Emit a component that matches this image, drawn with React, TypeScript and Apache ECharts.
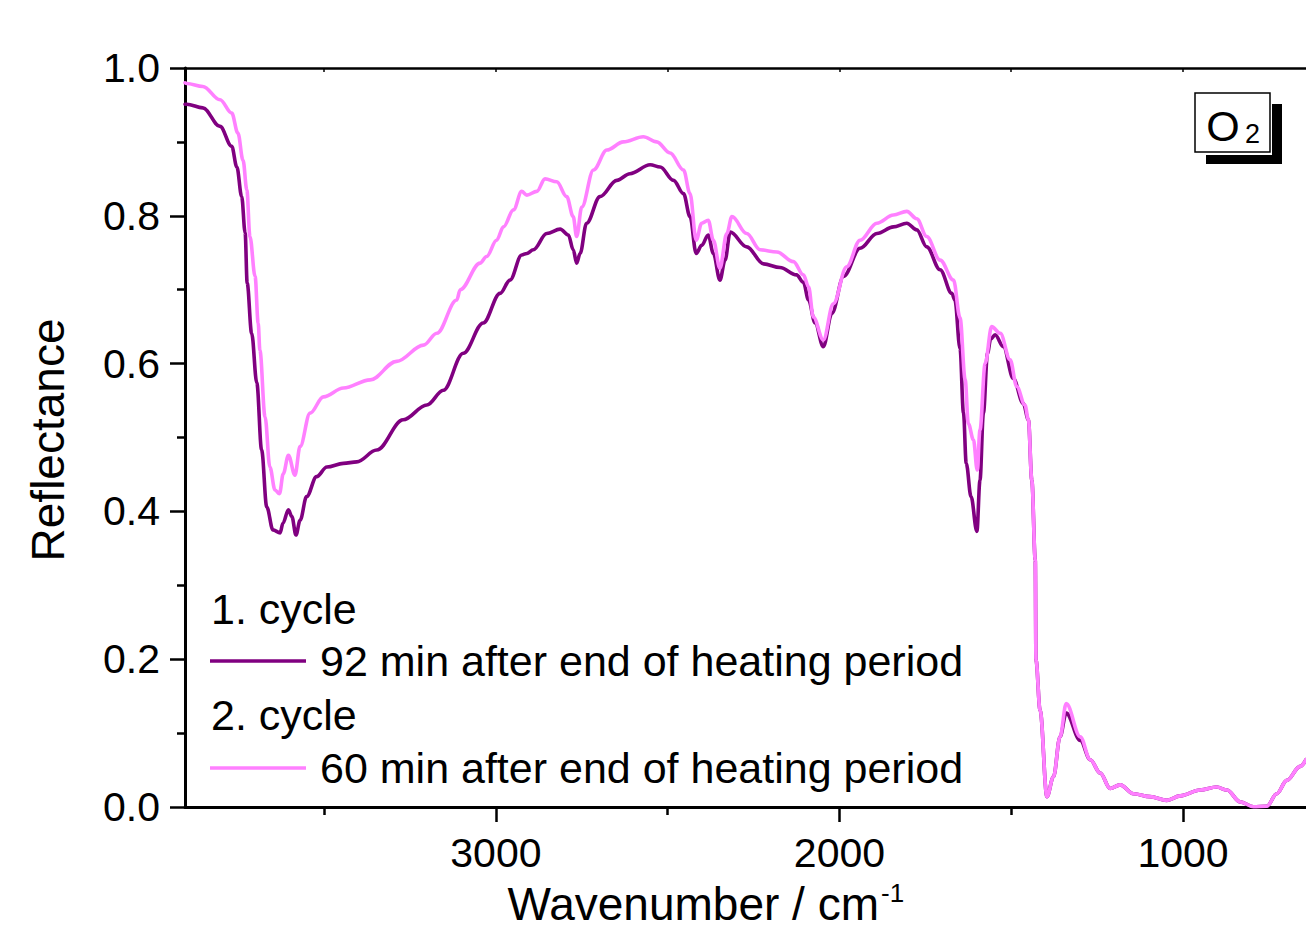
import React, { useEffect, useRef } from "react";
import * as echarts from "echarts";

// Diffuse reflectance spectra, [wavenumber / cm-1, reflectance]
const cycle1After92Min: [number, number][] = [
  [3905, 0.951], [3900, 0.951], [3853, 0.946], [3803, 0.921], [3769, 0.894], [3754, 0.866],
  [3740, 0.826], [3730, 0.777], [3724, 0.709], [3711, 0.641], [3696, 0.574], [3682, 0.483],
  [3667, 0.406], [3649, 0.375], [3628, 0.371], [3620, 0.384], [3604, 0.402], [3594, 0.393],
  [3582, 0.368], [3570, 0.388], [3551, 0.42], [3522, 0.447], [3492, 0.46], [3444, 0.465],
  [3405, 0.467], [3347, 0.483], [3270, 0.524], [3201, 0.544], [3153, 0.564], [3095, 0.614],
  [3037, 0.655], [2988, 0.695], [2959, 0.713], [2925, 0.747], [2910, 0.749], [2891, 0.754],
  [2852, 0.776], [2813, 0.782], [2789, 0.774], [2775, 0.754], [2765, 0.736], [2755, 0.749],
  [2736, 0.79], [2697, 0.826], [2648, 0.848], [2610, 0.857], [2551, 0.869], [2522, 0.866],
  [2483, 0.848], [2454, 0.83], [2435, 0.799], [2417, 0.749], [2401, 0.76], [2382, 0.774],
  [2367, 0.749], [2348, 0.713], [2333, 0.74], [2318, 0.778], [2270, 0.758], [2221, 0.735],
  [2173, 0.73], [2125, 0.72], [2105, 0.71], [2090, 0.686], [2071, 0.655], [2047, 0.623],
  [2022, 0.668], [1988, 0.718], [1940, 0.756], [1891, 0.776], [1843, 0.785], [1804, 0.79],
  [1775, 0.781], [1746, 0.758], [1707, 0.727], [1673, 0.695], [1664, 0.686], [1649, 0.62],
  [1639, 0.533], [1631, 0.465], [1617, 0.42], [1600, 0.373], [1591, 0.442], [1581, 0.533],
  [1569, 0.614], [1560, 0.633], [1547, 0.639], [1523, 0.623], [1494, 0.58], [1465, 0.546],
  [1450, 0.524], [1440, 0.442], [1430, 0.334], [1428, 0.199], [1416, 0.131], [1396, 0.014],
  [1377, 0.041], [1358, 0.095], [1340, 0.127], [1299, 0.09], [1270, 0.064], [1241, 0.046],
  [1212, 0.025], [1183, 0.03], [1144, 0.018], [1096, 0.014], [1047, 0.009], [1008, 0.015],
  [950, 0.023], [902, 0.027], [872, 0.023], [834, 0.007], [795, 0.0004], [756, 0.001],
  [727, 0.018], [698, 0.036], [659, 0.055], [642, 0.064],
];

const cycle2After60Min: [number, number][] = [
  [3905, 0.98], [3900, 0.979], [3853, 0.975], [3803, 0.957], [3769, 0.939], [3751, 0.912],
  [3736, 0.875], [3725, 0.835], [3716, 0.772], [3701, 0.718], [3692, 0.655], [3687, 0.618],
  [3672, 0.528], [3658, 0.46], [3643, 0.429], [3630, 0.424], [3619, 0.451], [3604, 0.476],
  [3585, 0.449], [3570, 0.488], [3541, 0.533], [3502, 0.555], [3444, 0.567], [3366, 0.578],
  [3289, 0.603], [3211, 0.625], [3172, 0.641], [3114, 0.686], [3104, 0.7], [3046, 0.736],
  [3027, 0.745], [2998, 0.767], [2978, 0.785], [2949, 0.808], [2925, 0.833], [2910, 0.828],
  [2881, 0.833], [2857, 0.85], [2823, 0.846], [2794, 0.826], [2775, 0.799], [2765, 0.772],
  [2750, 0.812], [2716, 0.862], [2677, 0.889], [2629, 0.9], [2571, 0.907], [2532, 0.9],
  [2493, 0.885], [2454, 0.862], [2435, 0.83], [2417, 0.767], [2401, 0.79], [2382, 0.794],
  [2367, 0.767], [2348, 0.729], [2328, 0.776], [2313, 0.799], [2270, 0.776], [2231, 0.754],
  [2182, 0.751], [2134, 0.738], [2105, 0.72], [2090, 0.704], [2076, 0.663], [2047, 0.632],
  [2018, 0.681], [1979, 0.731], [1940, 0.767], [1891, 0.79], [1843, 0.801], [1804, 0.806],
  [1775, 0.796], [1746, 0.772], [1707, 0.74], [1668, 0.713], [1649, 0.662], [1634, 0.578],
  [1625, 0.519], [1610, 0.497], [1599, 0.456], [1591, 0.51], [1576, 0.6], [1557, 0.65],
  [1532, 0.641], [1503, 0.605], [1484, 0.569], [1460, 0.544], [1450, 0.524], [1440, 0.442],
  [1430, 0.334], [1428, 0.199], [1416, 0.131], [1396, 0.014], [1377, 0.041], [1358, 0.095],
  [1340, 0.14], [1299, 0.095], [1270, 0.064], [1241, 0.046], [1212, 0.025], [1183, 0.03],
  [1144, 0.018], [1096, 0.014], [1047, 0.009], [1008, 0.015], [950, 0.023], [902, 0.027],
  [872, 0.023], [834, 0.007], [795, 0.0004], [756, 0.001], [727, 0.018], [698, 0.036],
  [659, 0.055], [642, 0.064],
];

const xMajorTicks = [3000, 2000, 1000];
const xMinorTicks = [3500, 2500, 1500];
const xTopTicks = [3500, 3000, 2500, 2000, 1500, 1000];

const seriesNames = [
  "92 min after end of heating period",
  "60 min after end of heating period",
];
const groupHeaders = ["1. cycle", "2. cycle"];
const seriesColors = ["#800080", "#ff80ff"];

const FONT = "'Liberation Sans', Arial, Helvetica, sans-serif";
const X_MIN = 642;
const X_MAX = 3905;

export default function App() {
  const ref = useRef<HTMLDivElement>(null);

  useEffect(() => {
    if (!ref.current) return;
    const chart = echarts.init(ref.current, null, { renderer: "svg" });

    const baseX = {
      type: "value" as const,
      inverse: true,
      min: X_MIN,
      max: X_MAX,
      splitLine: { show: false },
    };

    const legendRows = [
      { header: groupHeaders[0], name: seriesNames[0], color: seriesColors[0], yHead: 609, yLine: 661 },
      { header: groupHeaders[1], name: seriesNames[1], color: seriesColors[1], yHead: 715, yLine: 768 },
    ];

    const legendGraphics: any[] = [];
    legendRows.forEach((r) => {
      legendGraphics.push({
        type: "text",
        x: 211,
        y: r.yHead,
        style: { text: r.header, font: `43px ${FONT}`, fill: "#000", textAlign: "left", textVerticalAlign: "middle" },
      });
      legendGraphics.push({
        type: "line",
        shape: { x1: 210, y1: r.yLine, x2: 306, y2: r.yLine },
        style: { stroke: r.color, lineWidth: 3.5 },
      });
      legendGraphics.push({
        type: "text",
        x: 320,
        y: r.yLine,
        style: { text: r.name, font: `43px ${FONT}`, fill: "#000", textAlign: "left", textVerticalAlign: "middle" },
      });
    });

    const lineSeries = (name: string, data: [number, number][], color: string) => ({
      name,
      type: "line",
      xAxisIndex: 0,
      data,
      showSymbol: false,
      symbol: "none",
      smooth: 0.35,
      smoothMonotone: "x",
      lineStyle: { color, width: 3.6, join: "round", cap: "round" },
      itemStyle: { color },
    });

    chart.setOption({
      animation: false,
      backgroundColor: "#ffffff",
      grid: { left: 185, right: 0, top: 68, bottom: 136, containLabel: false },
      xAxis: [
        {
          ...baseX,
          position: "bottom",
          axisLine: { show: true, onZero: false, lineStyle: { color: "#000", width: 3 } },
          axisTick: { show: true, inside: false, length: 15, customValues: xMajorTicks, lineStyle: { color: "#000", width: 2.5 } },
          axisLabel: {
            show: true,
            customValues: xMajorTicks,
            fontSize: 41,
            fontFamily: FONT,
            color: "#000",
            margin: 25,
            formatter: (v: number) => String(Math.round(v)),
          },
        },
        {
          ...baseX,
          position: "bottom",
          axisLine: { show: false, onZero: false },
          axisTick: { show: true, inside: false, length: 8, customValues: xMinorTicks, lineStyle: { color: "#000", width: 2.5 } },
          axisLabel: { show: false },
        },
        {
          ...baseX,
          position: "top",
          axisLine: { show: true, onZero: false, lineStyle: { color: "#000", width: 2.5 } },
          axisTick: { show: true, inside: true, length: 4, customValues: xTopTicks, lineStyle: { color: "#000", width: 1.5 } },
          axisLabel: { show: false },
        },
      ],
      yAxis: {
        type: "value",
        min: 0,
        max: 1,
        interval: 0.2,
        position: "left",
        axisLine: { show: true, onZero: false, lineStyle: { color: "#000", width: 3 } },
        axisTick: { show: true, inside: false, length: 15, lineStyle: { color: "#000", width: 2.5 } },
        minorTick: { show: true, splitNumber: 2, length: 8, lineStyle: { color: "#000", width: 2.5 } },
        axisLabel: {
          fontSize: 41,
          fontFamily: FONT,
          color: "#000",
          margin: 25,
          formatter: (v: number) => v.toFixed(1),
        },
        splitLine: { show: false },
        minorSplitLine: { show: false },
      },
      series: [
        lineSeries(seriesNames[0], cycle1After92Min, seriesColors[0]),
        lineSeries(seriesNames[1], cycle2After60Min, seriesColors[1]),
      ],
      graphic: [
        // axis titles
        {
          type: "text",
          x: 48,
          y: 440,
          rotation: Math.PI / 2,
          style: { text: "Reflectance", font: `46px ${FONT}`, fill: "#000", textAlign: "center", textVerticalAlign: "middle" },
        },
        {
          type: "text",
          x: 879,
          y: 904,
          style: { text: "Wavenumber / cm", font: `46px ${FONT}`, fill: "#000", textAlign: "right", textVerticalAlign: "middle" },
        },
        {
          type: "text",
          x: 881,
          y: 893,
          style: { text: "-1", font: `26px ${FONT}`, fill: "#000", textAlign: "left", textVerticalAlign: "middle" },
        },
        // legend
        ...legendGraphics,
        // gas label box with drop shadow
        { type: "rect", shape: { x: 1272, y: 104, width: 10, height: 60 }, style: { fill: "#000" } },
        { type: "rect", shape: { x: 1206, y: 155, width: 76, height: 9 }, style: { fill: "#000" } },
        { type: "rect", shape: { x: 1195, y: 93, width: 75, height: 59 }, style: { fill: "#fff", stroke: "#000", lineWidth: 1.5 } },
        {
          type: "text",
          x: 1223,
          y: 126,
          style: { text: "O", font: `43px ${FONT}`, fill: "#000", textAlign: "center", textVerticalAlign: "middle" },
        },
        {
          type: "text",
          x: 1245,
          y: 134,
          style: { text: "2", font: `27px ${FONT}`, fill: "#000", textAlign: "left", textVerticalAlign: "middle" },
        },
      ],
    });

    return () => chart.dispose();
  }, []);

  return (
    <div
      ref={ref}
      style={{ position: "fixed", left: 0, top: 0, width: 1306, height: 943, background: "#fff" }}
    />
  );
}
